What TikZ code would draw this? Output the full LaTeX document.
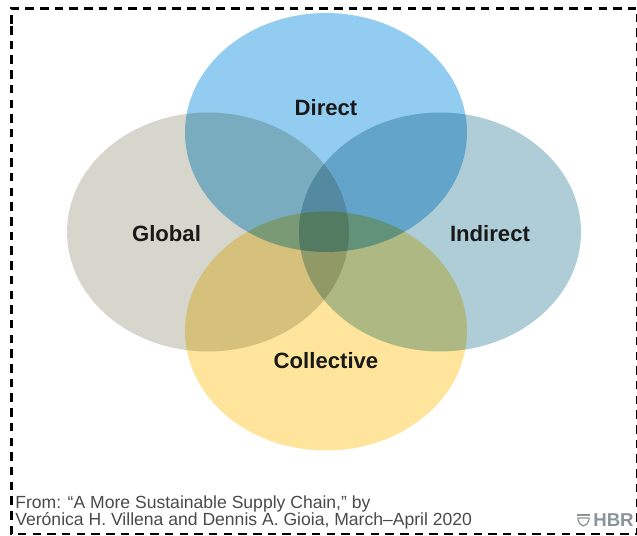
\documentclass[tikz,border=0pt]{standalone}
\usepackage{fontspec}
\setmainfont{Liberation Sans}
\usetikzlibrary{shapes.geometric}

\definecolor{directblue}{HTML}{92CDF1}
\definecolor{globalgray}{HTML}{D6D6CC}
\definecolor{indirectteal}{HTML}{AECDD6}
\definecolor{collectiveyellow}{HTML}{FEE59B}
\definecolor{captiongray}{HTML}{4A4A4A}
\definecolor{logogray}{HTML}{8C9499}

\tikzset{
  venn/.style={ellipse,inner sep=0,minimum width=5.64cm,minimum height=4.78cm},
  vennlabel/.style={font=\bfseries\fontsize{12.6}{15}\selectfont,text=black!90},
  caption/.style={anchor=west,inner sep=0,text=captiongray,font=\fontsize{10}{12}\selectfont},
}

\begin{document}
\begin{tikzpicture}[x=0.02cm,y=-0.02cm]
  \useasboundingbox (0,0) rectangle (637,536);
  \fill[white] (0,0) rectangle (637,536);
  \draw[line width=0.045cm,dash pattern=on 0.17cm off 0.124cm] (11.5,24) -- (11.5,8.5) -- (637.6,8.5) -- (637.6,534) -- (11.5,534) -- cycle;
  \begin{scope}[blend mode=multiply]
    \node[venn,fill=directblue] (direct) at (326,132.5) {};
    \node[venn,fill=globalgray] (global) at (208,232) {};
    \node[venn,fill=indirectteal] (indirect) at (440,232) {};
    \node[venn,fill=collectiveyellow] (collective) at (326,331) {};
  \end{scope}
  \node[vennlabel] (directlabel) at (326,108) {Direct};
  \node[vennlabel] (globallabel) at (166.5,233.5) {Global};
  \node[vennlabel] (indirectlabel) at (490,233.5) {Indirect};
  \node[vennlabel] (collectivelabel) at (326,361) {Collective};
  \node[caption] (captionone) at (15,504) {From: “A More Sustainable Supply Chain,” by};
  \node[caption] (captiontwo) at (15,521) {Verónica H. Villena and Dennis A. Gioia, March–April 2020};
  % logo
  \fill[logogray] (577,514.5) -- (590,514.5) -- (590,516) -- (577,516) -- cycle;
  \draw[logogray,line width=0.025cm] (578,518) -- (589,518) -- (589,520) .. controls (589,523) and (586,525) .. (583.5,526) .. controls (581,525) and (578,523) .. (578,520) -- cycle;
  \node[anchor=west,inner sep=0,text=logogray,font=\bfseries\fontsize{10.6}{13}\selectfont] (hbr) at (593,520.5) {HBR};
\end{tikzpicture}
\end{document}
